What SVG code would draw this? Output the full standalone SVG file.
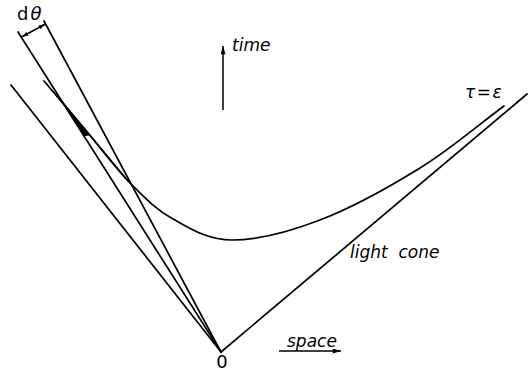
<svg xmlns="http://www.w3.org/2000/svg" width="529" height="373" viewBox="0 0 529 373">
  <style>
    .ln { fill: none; stroke: #000; stroke-width: 1.7; stroke-linecap: round; stroke-linejoin: round; }
    .ar { fill: none; stroke: #000; stroke-width: 1.5; }
    .lbl { font-family: "DejaVu Sans", "Liberation Sans", sans-serif; font-style: oblique; font-size: 17px; fill: #000; }
    .up { font-family: "DejaVu Sans", "Liberation Sans", sans-serif; font-size: 18px; fill: #000; }
  </style>
  <defs>
    <marker id="ah" viewBox="0 0 10 6" refX="10" refY="3" markerWidth="10" markerHeight="5" markerUnits="userSpaceOnUse" orient="auto-start-reverse">
      <path d="M0,0 L10,3 L0,6 z" fill="#000"/>
    </marker>
    <marker id="ahs" viewBox="0 0 10 6" refX="10" refY="3" markerWidth="7" markerHeight="4.5" markerUnits="userSpaceOnUse" orient="auto-start-reverse">
      <path d="M0,0 L10,3 L0,6 z" fill="#000"/>
    </marker>
  </defs>
  <rect width="529" height="373" fill="#fff"/>

  <g id="lines">
    <line id="cone-left" class="ln" x1="11" y1="85" x2="221" y2="352"/>
    <line id="ray-a" class="ln" x1="18" y1="32" x2="221" y2="352"/>
    <line id="ray-b" class="ln" x1="44" y1="21" x2="221" y2="352"/>
    <line id="cone-right" class="ln" x1="221" y1="352" x2="527" y2="94"/>
  </g>

  <g id="curve">
    <path class="ln" stroke-width="2" d="M44,81 C58.7,98.3 73.5,115.8 88,133 C102.5,150.2 116.8,169.7 131,184 C145.2,198.3 156.2,209.7 173,219 C189.8,228.3 207.3,240 232,240 C256.7,240 288.7,232 320,220 C351.3,208 389.3,187 420,168 C450.7,149 476,126.7 504,106"/>
    <path class="ln" stroke-width="3.2" d="M57,96 L88,133 L128,181"/>
    <polygon points="58,96 90,135.5 84,136" fill="#000"/>
  </g>

  <g id="arrows">
    <line class="ar" x1="21.5" y1="37" x2="45.5" y2="24" marker-start="url(#ahs)" marker-end="url(#ahs)"/>
    <line class="ar" x1="223" y1="110" x2="223" y2="46" marker-end="url(#ah)"/>
    <line class="ar" x1="279" y1="351" x2="341" y2="351" marker-end="url(#ah)"/>
  </g>

  <g id="labels">
    <text class="up" x="17" y="20" letter-spacing="2">d<tspan font-style="oblique">θ</tspan></text>
    <text class="lbl" x="232" y="51">time</text>
    <text class="lbl" x="465" y="98" letter-spacing="1.5">τ=ε</text>
    <text class="lbl" x="350" y="258" xml:space="preserve">light  cone</text>
    <text class="lbl" x="287" y="347">space</text>
    <text class="up" x="222" y="368" text-anchor="middle" font-size="13">0</text>
  </g>
</svg>
